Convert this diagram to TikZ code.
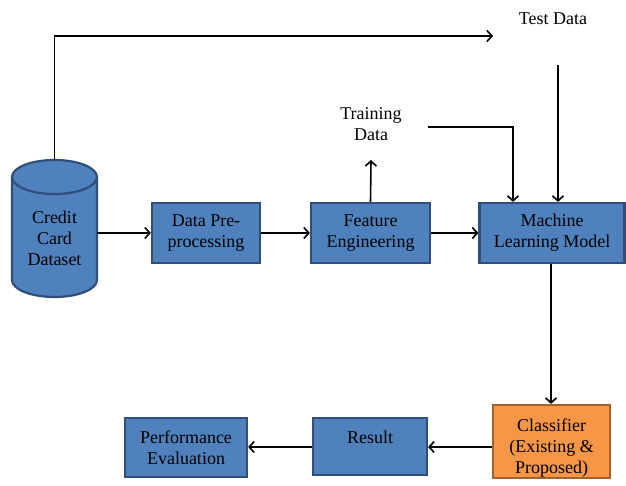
\documentclass[tikz,border=0pt]{standalone}
\usepackage{fontspec}
\setmainfont{Liberation Serif}
\usetikzlibrary{arrows.meta}
\definecolor{boxblue}{HTML}{4F81BD}
\definecolor{boxblueline}{HTML}{2F4F7A}
\definecolor{boxorange}{HTML}{F79646}
\definecolor{boxorangeline}{HTML}{A5622A}
\begin{document}
\begin{tikzpicture}[x=1pt,y=1pt,
  font=\fontsize{18}{21}\selectfont,
  bluebox/.style={draw=boxblueline,fill=boxblue,line width=2.2pt,align=center,inner sep=0pt},
  orangebox/.style={draw=boxorangeline,fill=boxorange,line width=2.2pt,align=center,inner sep=0pt},
  conn/.style={line width=1.6pt,-{Straight Barb[length=5pt,width=11pt]}},
  plainline/.style={line width=1.6pt}]
\useasboundingbox (0,0) rectangle (626,485);
% cylinder
\fill[boxblue] (12,308) -- (12,205) arc (180:360:42.5pt and 17pt) -- (97,308) arc (0:180:42.5pt and 17pt) -- cycle;
\draw[boxblueline,line width=2.2pt] (12,308) -- (12,205) arc (180:360:42.5pt and 17pt) -- (97,308);
\draw[boxblueline,line width=2.2pt,fill=boxblue] (54.5,308) ellipse (42.5pt and 17pt);
\node[minimum width=85pt,minimum height=100pt,align=center,inner sep=0pt] (cyl) at (54.5,247) {Credit\\Card\\Dataset};
\coordinate (cyltop) at (54.5,325);
% boxes
\node[bluebox,minimum width=108pt,minimum height=60pt] (pre) at (206,252) {Data Pre-\\processing};
\node[bluebox,minimum width=119pt,minimum height=60pt] (fe) at (370.5,252) {Feature\\Engineering};
\node[bluebox,minimum width=145pt,minimum height=60pt] (ml) at (552,252) {Machine\\Learning Model};
\node[orangebox,minimum width=117pt,minimum height=73pt] (cls) at (551.5,43.5) {\strut\\[-9pt]Classifier\\(Existing \&\\Proposed)};
\node[bluebox,minimum width=114pt,minimum height=57pt] (res) at (370,38.5) {Result\\[-8pt]\strut};
\node[bluebox,minimum width=122pt,minimum height=59pt] (pe) at (186,37.5) {Performance\\Evaluation};
% texts
\node[align=center] (test) at (553,466) {Test Data};
\node[align=center] (train) at (371,361) {Training\\Data};
% coordinates
\coordinate (topright) at (493,449);
\coordinate (traintip) at (371,325);
\coordinate (trainstart) at (428,358);
\coordinate (teststart) at (558,420);
% connectors
\draw[conn] (cyltop) |- (topright);
\draw[conn] (cyl.east |- pre.west) -- (pre.west);
\draw[conn] (pre.east) -- (fe.west);
\draw[conn] (fe.east) -- (ml.west);
\draw[conn] (fe.north) -- (traintip);
\draw[conn] (trainstart) -| (ml.north -| 513,0);
\draw[conn] (teststart) -- (ml.north -| teststart);
\draw[conn] (ml.south -| 551,0) -- (cls.north -| 551,0);
\draw[conn] (cls.west |- 0,38) -- (res.east |- 0,38);
\draw[conn] (res.west |- 0,38) -- (pe.east |- 0,38);
\end{tikzpicture}
\end{document}
